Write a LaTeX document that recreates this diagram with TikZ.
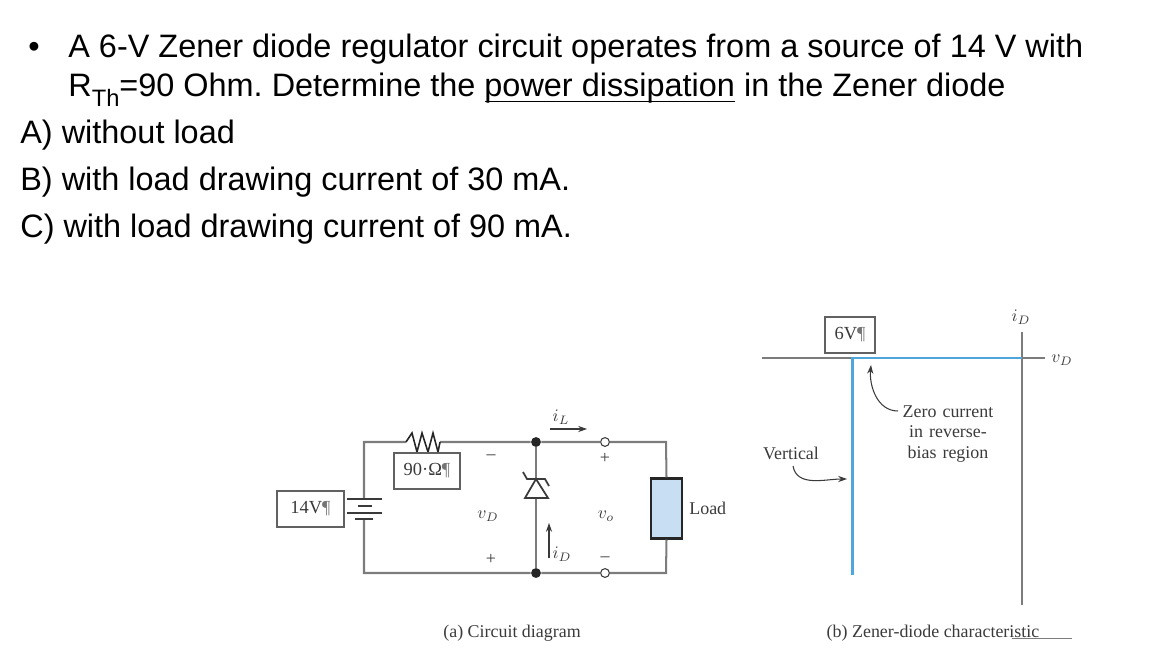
\documentclass[tikz,border=0pt]{standalone}
\usepackage{fontspec}
\setmainfont{Liberation Serif}
\newfontfamily\slidefont{Liberation Sans}
\usetikzlibrary{arrows.meta}
\definecolor{wiregray}{HTML}{7C7C7C}
\definecolor{inkgray}{HTML}{3A3A3A}
\definecolor{curveblue}{HTML}{4FA6DC}
\definecolor{loadblue}{HTML}{C8DFF3}
\tikzset{
  slide/.style={anchor=base west,inner sep=0pt,font=\slidefont\fontsize{18.46}{20}\selectfont\frenchspacing,text=black},
  wire/.style={draw=wiregray,line width=1.15pt},
  valuebox/.style={draw=inkgray!80,line width=.7pt,inner sep=0pt,fill=white,font=\fontsize{10.5}{12}\selectfont,text=inkgray},
  small/.style={font=\fontsize{10.2}{11.6}\selectfont,text=inkgray,inner sep=0pt},
  dot/.style={circle,fill=black!85,inner sep=0pt,minimum size=5.6pt},
  terminal/.style={circle,draw=inkgray,fill=white,line width=.6pt,inner sep=0pt,minimum size=5pt},
  pointer/.style={-{Stealth[length=5pt,width=3.5pt]},draw=inkgray,line width=.6pt}
}
\newcommand{\pilcrow}{\textcolor{inkgray!70}{¶}}
\newcommand{\lowrule}[1]{\vtop{\hbox{#1}\kern-1.6pt\hrule height .7pt}}
\begin{document}
\begin{tikzpicture}[x=.02cm,y=-.02cm]
  \useasboundingbox (0,0) rectangle (1152,672);
  % question text
  \node[slide] (bullet) at (28,58) {•};
  \node[slide] (line1) at (68,58) {A 6-V Zener diode regulator circuit operates from a source of 14 V with};
  \node[slide] (line2) at (68,97) {R\raisebox{-.3em}{\fontsize{13.5}{14}\selectfont Th}=90 Ohm. Determine the \lowrule{power dissipation} in the Zener diode};
  \node[slide] (partA) at (20,144) {A) without load};
  \node[slide] (partB) at (20,191) {B) with load drawing current of 30 mA.};
  \node[slide] (partC) at (20,237) {C) with load drawing current of 90 mA.};

  % circuit
  \coordinate (tl) at (364,442);
  \coordinate (bl) at (364,573);
  \coordinate (tr) at (666,442);
  \coordinate (br) at (666,573);
  \coordinate (rin) at (406,442);
  \coordinate (rout) at (440,442);
  \coordinate (plus) at (364,499);
  \coordinate (minus) at (364,519);
  \coordinate (ztop) at (536,480);
  \coordinate (zbot) at (536,498);
  \node[dot] (jt) at (536,442) {};
  \node[dot] (jb) at (536,573) {};
  \node[terminal] (ot) at (605,442) {};
  \node[terminal] (ob) at (605,573) {};
  \node[draw=black!85,line width=1.2pt,fill=loadblue,minimum width=.62cm,minimum height=1.2cm,inner sep=0pt] (load) at (666.5,508.5) {};
  \draw[wire] (plus) -- (tl) -- (rin) (rout) -- (jt) -- (ot) -- (tr) -- (load.north);
  \draw[wire] (minus) -- (bl) -- (jb) -- (ob) -- (br) -- (load.south);
  \draw[wire] (jt) -- (ztop) (zbot) -- (jb);
  % resistor
  \draw[black!85,line width=.9pt] (rin) -- (412,433) -- (417,452) -- (422,433) -- (428,452) -- (433,433) -- (438,452) -- (rout);
  % battery
  \draw[inkgray,line width=.9pt] (347,499) -- (382,499) (358,506) -- (372,506) (347,513) -- (382,513) (355,519) -- (373,519);
  % zener
  \draw[inkgray,line width=1pt,line join=miter] (536,479) -- (525,498) -- (548,498) -- cycle;
  \draw[inkgray,line width=1pt] (523,472) -- (527,479) -- (545,479) -- (549,486);

  \node[valuebox,minimum width=1.32cm,minimum height=.72cm] (rbox) at (427,471) {90·Ω\pilcrow};
  \node[valuebox,minimum width=1.34cm,minimum height=.72cm] (vbox) at (310.5,509) {14V\pilcrow};

  \node[small] (vd) at (488,516) {$v_D$};
  \node[small] (vo) at (606,516) {$v_o$};
  \node[small] (sminus) at (491,457) {--};
  \node[small] (splus) at (491,559) {+};
  \node[small] (oplus) at (605,458) {+};
  \node[small] (ominus) at (605,559) {--};
  \node[small] (il) at (561,417) {$i_L$};
  \node[small] (id) at (562,554) {$i_D$};
  \node[small,anchor=west] (loadtext) at (689,508) {Load};
  \coordinate (ila) at (550,429);
  \coordinate (ilb) at (587,429);
  \coordinate (ida) at (549,558);
  \coordinate (idb) at (549,523);
  \draw[pointer] (ila) -- (ilb);
  \draw[pointer] (ida) -- (idb);
  \node[small] (capa) at (512,633) {(a) Circuit diagram};

  % characteristic
  \coordinate (xa) at (762,358);
  \coordinate (xb) at (1045,358);
  \coordinate (ya) at (1022,332);
  \coordinate (yb) at (1022,605);
  \coordinate (knee) at (852,358);
  \coordinate (low) at (852,575);
  \coordinate (cross) at (1022,358);
  \draw[draw=wiregray,line width=.9pt] (xa) -- (xb) (ya) -- (yb);
  \draw[draw=curveblue,line width=1.7pt] (low) -- (knee) -- (cross);
  \node[valuebox,minimum width=1cm,minimum height=.72cm] (vz) at (850,335) {6V\pilcrow};
  \node[small] (idaxis) at (1021,317) {$i_D$};
  \node[small] (vdaxis) at (1062,360) {$v_D$};
  \node[small,align=center,text width=2.2cm] (zero) at (948,434) {Zero current\\in reverse-\\bias region};
  \node[small] (vert) at (791,453) {Vertical};
  \coordinate (zerostart) at (898,411);
  \coordinate (zeroend) at (871,365);
  \coordinate (vertstart) at (793,466);
  \coordinate (vertend) at (847,479);
  \draw[pointer] (zerostart) to[out=180,in=265] (zeroend);
  \draw[pointer] (vertstart) to[out=280,in=180] (vertend);
  \node[small] (capb) at (933,633) {(b) Zener-diode characteristic};
  \coordinate (ula) at (1012,638);
  \coordinate (ulb) at (1072,638);
  \draw[wiregray,line width=.5pt] (ula) -- (ulb);
\end{tikzpicture}
\end{document}
